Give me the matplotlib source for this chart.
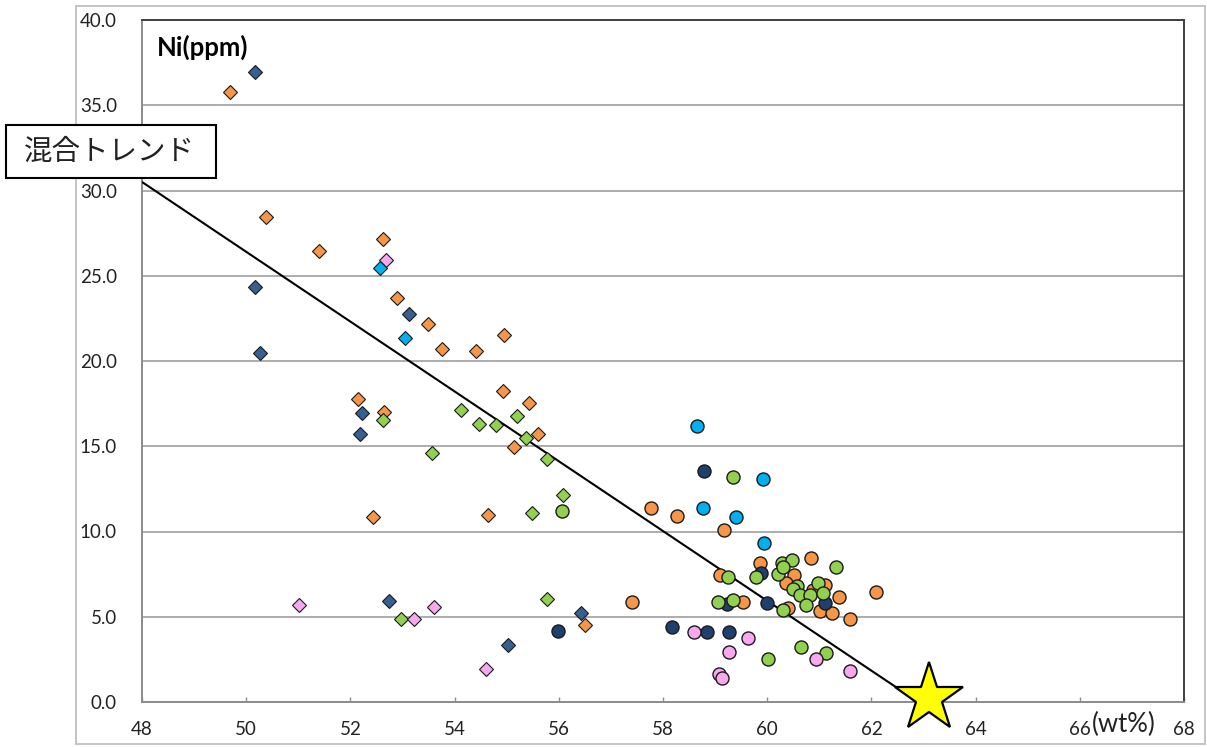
import matplotlib
matplotlib.use("Agg")
import matplotlib.pyplot as plt
from matplotlib.patches import Rectangle

# --- data: SiO2 (wt%) vs Ni (ppm) ---
# diamond series
navy_d_x = [50.17, 50.16, 50.27, 53.13, 52.23, 52.18, 52.75, 56.42, 55.02]
navy_d_y = [36.93, 24.36, 20.49, 22.76, 16.97, 15.72, 5.94, 5.24, 3.34]

orange_d_x = [49.69, 50.38, 51.40, 52.62, 52.89, 53.48, 53.76, 54.42, 54.95, 54.92,
              55.42, 55.61, 55.14, 52.14, 52.65, 52.43, 54.65, 56.51]
orange_d_y = [35.76, 28.46, 26.45, 27.17, 23.68, 22.15, 20.70, 20.60, 21.52, 18.24,
              17.55, 15.72, 14.94, 17.79, 17.03, 10.83, 10.97, 4.52]

green_d_x = [52.63, 54.12, 54.46, 54.79, 55.19, 55.38, 55.77, 56.09, 53.57, 55.49, 55.77, 52.98]
green_d_y = [16.54, 17.11, 16.30, 16.26, 16.77, 15.46, 14.23, 12.14, 14.62, 11.07, 6.04, 4.87]

pink_d_x = [52.68, 51.01, 53.23, 53.60, 54.60]
pink_d_y = [25.92, 5.69, 4.87, 5.59, 1.95]

cyan_d_x = [52.56, 53.05]
cyan_d_y = [25.47, 21.37]

# circle series
orange_c_x = [57.77, 58.27, 59.17, 57.41, 59.09, 59.86, 60.52, 60.37, 59.54, 60.85,
              61.11, 61.38, 61.01, 61.24, 61.59, 62.09, 60.39, 60.88]
orange_c_y = [11.38, 10.91, 10.09, 5.88, 7.45, 8.17, 7.45, 6.96, 5.88, 8.43,
              6.86, 6.14, 5.35, 5.20, 4.87, 6.43, 5.49, 6.57]

navy_c_x = [58.79, 55.99, 58.17, 58.85, 59.27, 59.89, 59.22, 59.99, 61.11]
navy_c_y = [13.55, 4.18, 4.38, 4.09, 4.09, 7.55, 5.75, 5.79, 5.82]

green_c_x = [59.34, 56.06, 59.25, 59.06, 59.35, 59.78, 60.28, 60.47, 60.20, 60.30,
             60.58, 60.50, 60.63, 60.82, 60.75, 60.98, 61.08, 61.32, 60.31, 60.02,
             60.64, 61.13]
green_c_y = [13.20, 11.22, 7.35, 5.88, 5.98, 7.31, 8.17, 8.33, 7.49, 7.94,
             6.82, 6.61, 6.28, 6.28, 5.69, 6.96, 6.38, 7.94, 5.40, 2.50,
             3.22, 2.86]

pink_c_x = [58.60, 59.27, 59.07, 59.13, 59.64, 60.94, 61.58]
pink_c_y = [4.09, 2.91, 1.64, 1.39, 3.73, 2.50, 1.84]

cyan_c_x = [58.65, 59.92, 58.77, 59.40, 59.94]
cyan_c_y = [16.19, 13.08, 11.38, 10.85, 9.33]

# mixing trend line and end member
trend_x = [48.0, 62.8]
trend_y = [30.5, 0.2]
end_x = [63.1]
end_y = [0.25]

x_ticks = [48, 50, 52, 54, 56, 58, 60, 62, 64, 66, 68]
y_ticks = [0, 5, 10, 15, 20, 25, 30, 35, 40]

ORANGE = "#F79646"
NAVY_D = "#376092"
NAVY_C = "#1F3F6F"
GREEN = "#92D050"
PINK = "#F9A8F0"
CYAN = "#00B0F0"

plt.rcParams["font.family"] = ["Lato", "DejaVu Sans"]

W, H = 1207, 747
fig = plt.figure(figsize=(W / 100, H / 100), dpi=100)
ax = fig.add_axes([142 / W, 1 - 702 / H, (1184 - 142) / W, (702 - 20) / H])

ax.set_xlim(48, 68)
ax.set_ylim(0, 40)

# trend line
ax.plot(trend_x, trend_y, color="black", lw=1.5, zorder=3, solid_capstyle="butt")

dkw = dict(ls="none", marker="D", ms=7.2, mec="#1a1a1a", mew=0.8, zorder=4)
ckw = dict(ls="none", marker="o", ms=9.4, mec="#1a1a1a", mew=1.0, zorder=5)

ax.plot(navy_d_x, navy_d_y, mfc=NAVY_D, **dkw)
ax.plot(orange_d_x, orange_d_y, mfc=ORANGE, **dkw)
ax.plot(green_d_x, green_d_y, mfc=GREEN, **dkw)
ax.plot(pink_d_x, pink_d_y, mfc=PINK, **dkw)
ax.plot(cyan_d_x, cyan_d_y, mfc=CYAN, **dkw)

ax.plot(orange_c_x, orange_c_y, mfc=ORANGE, **ckw)
ax.plot(navy_c_x, navy_c_y, mfc=NAVY_C, **ckw)
ax.plot(green_c_x, green_c_y, mfc=GREEN, **ckw)
ax.plot(pink_c_x, pink_c_y, mfc=PINK, **ckw)
ax.plot(cyan_c_x, cyan_c_y, mfc=CYAN, **ckw)

# end member star
ax.plot(end_x, end_y, ls="none", marker="*", ms=52, mfc="#FFFF00", mec="black",
        mew=1.6, zorder=8, clip_on=False)

# grid and frame
ax.set_yticks(y_ticks)
ax.set_yticklabels([f"{v:.1f}" for v in y_ticks])
ax.set_xticks(x_ticks)
ax.set_xticklabels([str(v) for v in x_ticks])
ax.yaxis.grid(True, color="#A6A6A6", lw=1.3)
ax.set_axisbelow(True)

ax.tick_params(axis="y", length=0, pad=18, labelsize=13.5, labelcolor="#222222")
ax.tick_params(axis="x", direction="in", length=3.6, width=1.0, color="#8C8C8C",
               pad=14, labelsize=13.5, labelcolor="#222222")

for side in ("top", "right"):
    ax.spines[side].set_color("#404040")
    ax.spines[side].set_linewidth(1.4)
for side in ("left", "bottom"):
    ax.spines[side].set_color("#8C8C8C")
    ax.spines[side].set_linewidth(1.4)

# titles inside and beside the plot
fig.text(157 / W, 1 - 47 / H, "Ni(ppm)", fontsize=18.5,
         fontweight="bold", ha="left", va="center", color="black")
fig.text(1124 / W, 1 - 724 / H, "(wt%)", fontsize=18.5, ha="center", va="center",
         color="#222222")

# chart area border
fig.add_artist(Rectangle((76 / W, 1 - 744 / H), (1205 - 76) / W, (744 - 6) / H,
                         transform=fig.transFigure, fill=False, ec="#BFBFBF",
                         lw=1.3, zorder=1))

# label box for the mixing trend
fig.add_artist(Rectangle((6 / W, 1 - 178 / H), 210 / W, 53 / H,
                         transform=fig.transFigure, fc="white", ec="black",
                         lw=1.5, zorder=10))
fig.text(109 / W, 1 - 152 / H, "混合トレンド", fontsize=20.5, ha="center", va="center",
         family=["Noto Sans CJK JP", "DejaVu Sans"], color="#222222", zorder=11)

fig.savefig("out.png", dpi=100)
